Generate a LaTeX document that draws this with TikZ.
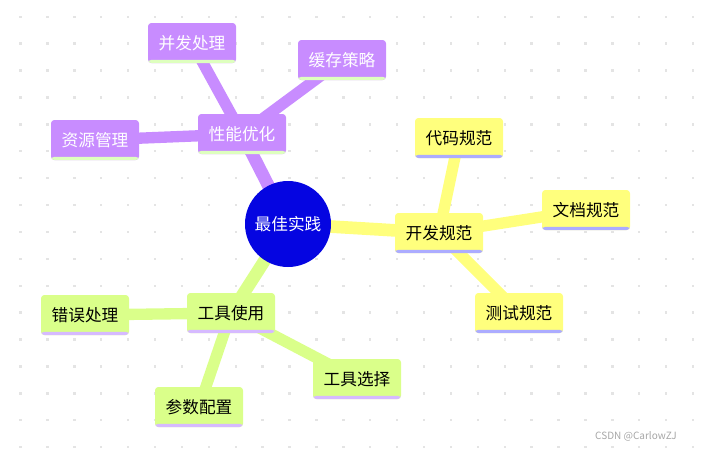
\documentclass[tikz,border=0pt]{standalone}
\usepackage{fontspec}
\setmainfont{Noto Sans CJK SC}
\usetikzlibrary{backgrounds}
\definecolor{azul}{RGB}{5,5,225}
\definecolor{morado}{RGB}{200,140,255}
\definecolor{amarillo}{RGB}{255,255,125}
\definecolor{verde}{RGB}{218,255,138}
\definecolor{bordeMorado}{RGB}{222,255,190}
\definecolor{bordeAmarillo}{RGB}{172,172,255}
\definecolor{bordeVerde}{RGB}{214,186,255}
\definecolor{punto}{RGB}{228,228,228}
\tikzset{
  raiz/.style={circle, fill=azul, text=white, minimum size=64.5pt, inner sep=0pt, font=\fontsize{12.5}{14}\selectfont},
  rama/.style={rectangle, rounded corners=2.5pt, minimum width=66pt, minimum height=30pt, inner sep=0pt, font=\fontsize{12.5}{14}\selectfont,
    path picture={\fill[#1] ([yshift=2.4pt]path picture bounding box.south west) rectangle (path picture bounding box.south east);}},
  perf/.style={rama=bordeMorado, fill=morado, text=white},
  dev/.style={rama=bordeAmarillo, fill=amarillo, text=black},
  tool/.style={rama=bordeVerde, fill=verde, text=black},
  lazo/.style={line width=9.5pt, #1},
  sublazo/.style={line width=8.5pt, #1},
}

\begin{document}
\begin{tikzpicture}[x=0.75pt, y=-0.75pt]
  \useasboundingbox (0,0) rectangle (703,450);
  \node[raiz] (raiz) at (288,224) {最佳实践};
  % rendimiento
  \node[perf] (perf) at (242,134) {性能优化};
  \node[perf] (concurrencia) at (192,43) {并发处理};
  \node[perf] (cache) at (342,60) {缓存策略};
  \node[perf] (recursos) at (95,140) {资源管理};
  % normas de desarrollo
  \node[dev] (dev) at (439,233) {开发规范};
  \node[dev] (codigo) at (459,138) {代码规范};
  \node[dev] (docs) at (586,210) {文档规范};
  \node[dev] (pruebas) at (519,313) {测试规范};
  % herramientas
  \node[tool] (tool) at (231,313) {工具使用};
  \node[tool] (errores) at (85,315) {错误处理};
  \node[tool] (params) at (199,407) {参数配置};
  \node[tool] (eleccion) at (357,379) {工具选择};
  \node[font=\fontsize{7.5}{9}\selectfont, text=black!35] (marca) at (636,436) {CSDN @CarlowZJ};
  \begin{scope}[on background layer]
    \foreach \i in {0,...,25}
      \foreach \j in {0,...,16}
        \fill[punto] (20.5+26.9*\i-1.2,16.7+26.9*\j-1.2) rectangle ++(2.4,2.4);
    \draw[lazo=morado] (raiz.center) -- (perf.center);
    \draw[lazo=amarillo] (raiz.center) -- (dev.center);
    \draw[lazo=verde] (raiz.center) -- (tool.center);
    \draw[sublazo=morado] (perf.center) -- (concurrencia.center);
    \draw[sublazo=morado] (perf.center) -- (cache.center);
    \draw[sublazo=morado] (perf.center) -- (recursos.center);
    \draw[sublazo=amarillo] (dev.center) -- (codigo.center);
    \draw[sublazo=amarillo] (dev.center) -- (docs.center);
    \draw[sublazo=amarillo] (dev.center) -- (pruebas.center);
    \draw[sublazo=verde] (tool.center) -- (errores.center);
    \draw[sublazo=verde] (tool.center) -- (params.center);
    \draw[sublazo=verde] (tool.center) -- (eleccion.center);
  \end{scope}
\end{tikzpicture}
\end{document}
